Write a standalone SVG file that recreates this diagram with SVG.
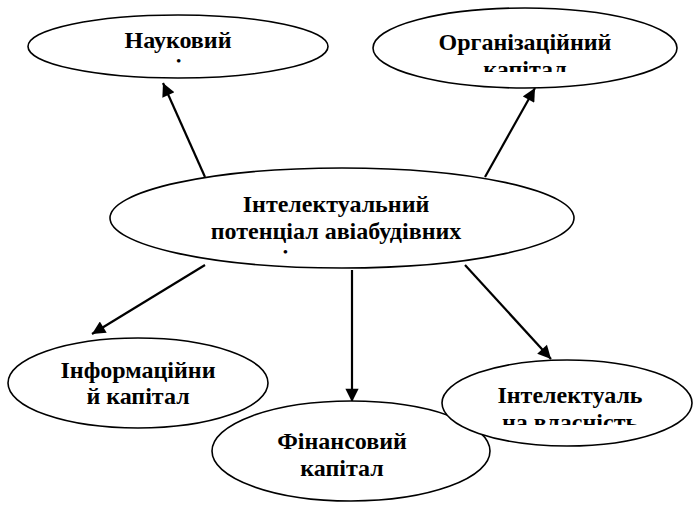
<svg xmlns="http://www.w3.org/2000/svg" width="694" height="505" viewBox="0 0 694 505">
<style>
.node ellipse{fill:#fff;stroke:#000;stroke-width:1.6}
.conn line{stroke:#000;stroke-width:2.2}
</style>
<defs>
<marker id="ah" viewBox="0 0 10 10" refX="10" refY="5" markerWidth="7" markerHeight="6" markerUnits="strokeWidth" orient="auto">
<path d="M0,0 L10,5 L0,10 z" fill="#000"/>
</marker>
<clipPath id="c1"><rect x="0" y="0" width="694" height="64"/></clipPath>
<clipPath id="c2"><rect x="0" y="0" width="694" height="72"/></clipPath>
<clipPath id="c3"><rect x="0" y="150" width="694" height="104"/></clipPath>
<clipPath id="c6"><rect x="0" y="360" width="694" height="65"/></clipPath>
</defs>
<g class="conn">
<line x1="205" y1="177" x2="163" y2="83" marker-end="url(#ah)"/>
<line x1="485" y1="177" x2="535" y2="88" marker-end="url(#ah)"/>
<line x1="205" y1="265" x2="92" y2="334" marker-end="url(#ah)"/>
<line x1="352" y1="270" x2="352" y2="402" marker-end="url(#ah)"/>
<line x1="465" y1="265" x2="551" y2="359" marker-end="url(#ah)"/>
</g>
<g id="n-naukovyi" class="node">
<ellipse cx="178" cy="46.5" rx="150" ry="31.5"/>
<g clip-path="url(#c1)"><text x="178" y="48" style="font-family:'Liberation Serif',serif;font-weight:bold;font-size:24px;text-anchor:middle">Науковий</text><text x="178" y="75" style="font-family:'Liberation Serif',serif;font-weight:bold;font-size:24px;text-anchor:middle">капітал</text></g>
</g>
<g id="n-orhanizatsiinyi" class="node">
<ellipse cx="525" cy="48" rx="152" ry="40"/>
<g clip-path="url(#c2)"><text x="525" y="50" style="font-family:'Liberation Serif',serif;font-weight:bold;font-size:24px;text-anchor:middle">Організаційний</text><text x="525" y="77" style="font-family:'Liberation Serif',serif;font-weight:bold;font-size:24px;text-anchor:middle">капітал</text></g>
</g>
<g id="n-center" class="node">
<ellipse cx="342" cy="218" rx="232" ry="50"/>
<g clip-path="url(#c3)"><text x="336" y="212" style="font-family:'Liberation Serif',serif;font-weight:bold;font-size:24px;text-anchor:middle">Інтелектуальний</text><text x="336" y="239" style="font-family:'Liberation Serif',serif;font-weight:bold;font-size:24px;text-anchor:middle">потенціал авіабудівних</text><text x="336" y="266" style="font-family:'Liberation Serif',serif;font-weight:bold;font-size:24px;text-anchor:middle">підприємств</text></g>
</g>
<g id="n-informatsiinyi" class="node">
<ellipse cx="138" cy="383" rx="130" ry="45"/>
<text x="138" y="378" style="font-family:'Liberation Serif',serif;font-weight:bold;font-size:24px;text-anchor:middle">Інформаційни</text><text x="138" y="404" style="font-family:'Liberation Serif',serif;font-weight:bold;font-size:24px;text-anchor:middle">й капітал</text>
</g>
<g id="n-finansovyi" class="node">
<ellipse cx="351" cy="451" rx="139" ry="50"/>
<text x="342" y="449" style="font-family:'Liberation Serif',serif;font-weight:bold;font-size:24px;text-anchor:middle">Фінансовий</text><text x="342" y="476" style="font-family:'Liberation Serif',serif;font-weight:bold;font-size:24px;text-anchor:middle">капітал</text>
</g>
<g id="n-intelektualna" class="node">
<ellipse cx="567" cy="403" rx="125" ry="43"/>
<g clip-path="url(#c6)"><text x="570" y="403" style="font-family:'Liberation Serif',serif;font-weight:bold;font-size:24px;text-anchor:middle">Інтелектуаль</text><text x="570" y="430" style="font-family:'Liberation Serif',serif;font-weight:bold;font-size:24px;text-anchor:middle">на власність</text></g>
</g>
</svg>
